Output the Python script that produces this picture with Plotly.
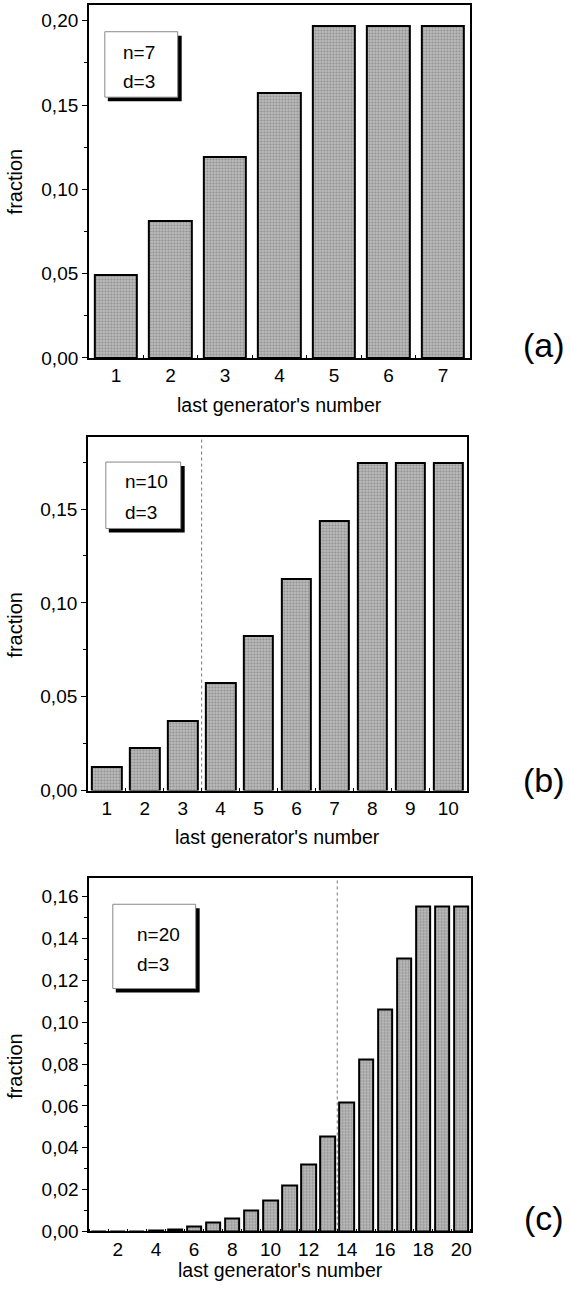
import plotly.graph_objects as go

W, H = 571, 1297

# ---------------- data ----------------
gen_a = [1, 2, 3, 4, 5, 6, 7]
frac_a = [0.049, 0.081, 0.119, 0.157, 0.197, 0.197, 0.197]

gen_b = [1, 2, 3, 4, 5, 6, 7, 8, 9, 10]
frac_b = [0.0127, 0.0227, 0.0373, 0.0574, 0.0824, 0.1127, 0.1437, 0.1743, 0.1743, 0.1743]

gen_c = list(range(1, 21))
frac_c = [0.00003, 0.0001, 0.0002, 0.0005, 0.0011, 0.0022, 0.0043, 0.0063, 0.0098, 0.0149,
          0.0218, 0.0322, 0.0452, 0.0615, 0.0823, 0.1060, 0.1307, 0.1553, 0.1553, 0.1553]

labels_a = ["n=7", "d=3"]
labels_b = ["n=10", "d=3"]
labels_c = ["n=20", "d=3"]
panel_tags = ["(a)", "(b)", "(c)"]
xtitle = "last generator's number"
ytitle = "fraction"
divider_b = 3.5
divider_c = 13.5

FONT = "Liberation Sans, Arial, sans-serif"


def px(x):
    return x / W


def py(y):
    return 1 - y / H


bar_style = dict(
    color="#aaaaaa",
    pattern=dict(shape=".", fgcolor="#606060", bgcolor="#bababa", size=3, solidity=0.35),
    line=dict(color="black", width=2),
)

fig = go.Figure()
fig.add_trace(go.Bar(x=gen_a, y=frac_a, width=0.78, marker=bar_style, xaxis="x", yaxis="y", showlegend=False))
fig.add_trace(go.Bar(x=gen_b, y=frac_b, width=0.78, marker=bar_style, xaxis="x2", yaxis="y2", showlegend=False))
fig.add_trace(go.Bar(x=gen_c, y=frac_c, width=0.76, marker=bar_style, xaxis="x3", yaxis="y3", showlegend=False))

# panel pixel geometry: (left, right, top, bottom)
geo = {
    "a": (89, 471, 5, 361),
    "b": (88, 468, 440.7, 797.3),
    "c": (89.3, 471.7, 886, 1242),
}


def xax(g, rng, tickvals, anchor):
    l, r, t, b = g
    return dict(
        domain=[px(l), px(r)], range=rng, anchor=anchor,
        showline=True, linecolor="black", linewidth=1.5, mirror=True,
        showgrid=False, zeroline=False,
        tickmode="array", tickvals=tickvals, ticks="", ticklen=0,
        tickfont=dict(family=FONT, size=19, color="black"),
        minor=dict(ticks="inside", ticklen=3, tickcolor="black", dtick=1, tick0=0.5, showgrid=False),
        fixedrange=True,
    )


def yax(g, rng, dtick, anchor):
    l, r, t, b = g
    return dict(
        domain=[py(b), py(t)], range=rng, anchor=anchor,
        showline=True, linecolor="black", linewidth=1.5, mirror=True,
        showgrid=False, zeroline=False,
        tickmode="linear", tick0=0, dtick=dtick, tickformat=".2f",
        ticks="outside", ticklen=5, tickcolor="black", tickwidth=1,
        tickfont=dict(family=FONT, size=19, color="black"),
        minor=dict(ticks="outside", ticklen=3, tickcolor="black", dtick=dtick / 2, showgrid=False),
        fixedrange=True,
    )


fig.update_layout(
    width=W, height=H,
    margin=dict(l=0, r=0, t=0, b=0),
    paper_bgcolor="white", plot_bgcolor="white",
    separators=", ",
    bargap=0,
    xaxis=xax(geo["a"], [0.5, 7.5], gen_a, "y"),
    yaxis=yax(geo["a"], [0, 0.2094], 0.05, "x"),
    xaxis2=xax(geo["b"], [0.5, 10.5], gen_b, "y2"),
    yaxis2=yax(geo["b"], [0, 0.1884], 0.05, "x2"),
    xaxis3=xax(geo["c"], [0.5, 20.5], [2, 4, 6, 8, 10, 12, 14, 16, 18, 20], "y3"),
    yaxis3=yax(geo["c"], [0, 0.1687], 0.02, "x3"),
)

shapes = []
annotations = []

# dotted dividers
for xv, xr, yr in [(divider_b, "x2", "y2 domain"), (divider_c, "x3", "y3 domain")]:
    shapes.append(dict(type="line", xref=xr, yref=yr, x0=xv, x1=xv, y0=0, y1=1,
                       line=dict(color="#777777", width=1, dash="dot"), layer="below"))

# legend-like boxes: (left, right, top, bottom, text_x, text_y1, text_y2, labels)
boxes = [
    (105, 178, 32, 98, 121, 53, 82, labels_a),
    (106, 181, 466, 533, 123, 486, 517, labels_b),
    (113, 196, 912, 997, 135, 942, 973, labels_c),
]
for l, r, t, b, tx, ty1, ty2, labs in boxes:
    shapes.append(dict(type="rect", xref="paper", yref="paper",
                       x0=px(l + 3), x1=px(r + 4), y0=py(b + 4), y1=py(t + 4),
                       fillcolor="black", line=dict(width=0), layer="above"))
    shapes.append(dict(type="rect", xref="paper", yref="paper",
                       x0=px(l), x1=px(r), y0=py(b), y1=py(t),
                       fillcolor="white", line=dict(color="#888888", width=1), layer="above"))
    for ty, lab in [(ty1, labs[0]), (ty2, labs[1])]:
        annotations.append(dict(text=lab, xref="paper", yref="paper", x=px(tx), y=py(ty),
                                xanchor="left", yanchor="middle", showarrow=False,
                                font=dict(family=FONT, size=19, color="black")))

# axis titles and panel tags
for key, ycen, tag, tagy in [("a", 183, panel_tags[0], 348), ("b", 630, panel_tags[1], 787), ("c", 1075, panel_tags[2], 1228)]:
    l, r, t, b = geo[key]
    off = 47 if key != "c" else 39
    annotations.append(dict(text=xtitle, xref="paper", yref="paper", x=px((l + r) / 2), y=py(b + off),
                            xanchor="center", yanchor="middle", showarrow=False,
                            font=dict(family=FONT, size=19.5, color="black")))
    annotations.append(dict(text=ytitle, xref="paper", yref="paper", x=px(15), y=py(ycen),
                            xanchor="center", yanchor="middle", textangle=-90, showarrow=False,
                            font=dict(family=FONT, size=20, color="black")))
    annotations.append(dict(text=tag, xref="paper", yref="paper", x=px(545), y=py(tagy),
                            xanchor="center", yanchor="middle", showarrow=False,
                            font=dict(family=FONT, size=34, color="black")))

fig.update_layout(shapes=shapes, annotations=annotations)
fig.write_html("out.html")
